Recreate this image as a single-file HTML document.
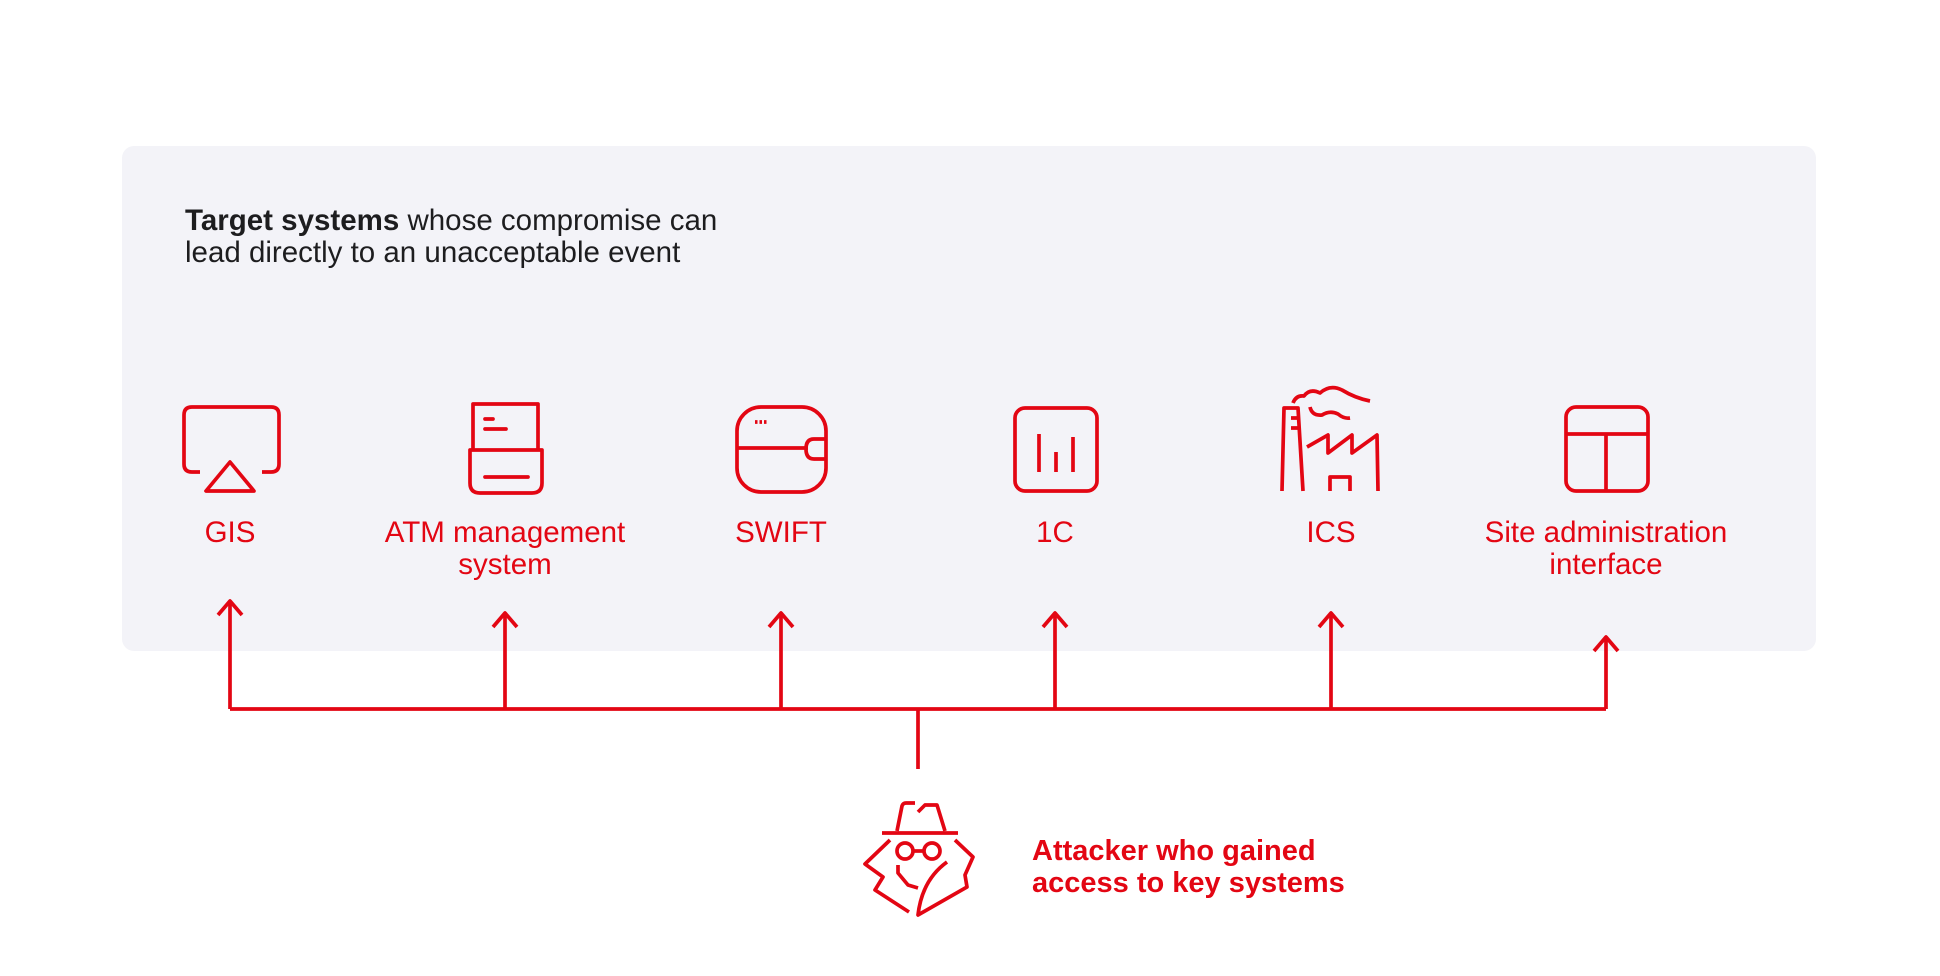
<!DOCTYPE html>
<html><head><meta charset="utf-8"><style>
html,body{margin:0;padding:0;background:#fff;}
body{width:1940px;height:976px;overflow:hidden;position:relative;font-family:"Liberation Sans",sans-serif;}
.box{position:absolute;left:122px;top:146px;width:1694px;height:505px;background:#f3f3f8;border-radius:12px;}
.h{position:absolute;left:185px;top:205px;font-size:29.5px;line-height:32px;color:#1d1d1f;}
.lbl{position:absolute;width:340px;text-align:center;font-size:29.5px;line-height:32px;color:#e30613;top:517px;}
.att{position:absolute;left:1032px;top:835px;font-size:29px;line-height:32px;color:#e30613;font-weight:bold;}
svg{position:absolute;left:0;top:0;}
</style></head><body>
<div class="box"></div>
<div class="h"><b>Target systems</b> whose compromise can<br>lead directly to an unacceptable event</div>
<div class="lbl" style="left:60px">GIS</div>
<div class="lbl" style="left:335px">ATM management<br>system</div>
<div class="lbl" style="left:611px">SWIFT</div>
<div class="lbl" style="left:885px">1C</div>
<div class="lbl" style="left:1161px">ICS</div>
<div class="lbl" style="left:1436px">Site administration<br>interface</div>
<div class="att">Attacker who gained<br>access to key systems</div>
<svg width="1940" height="976" viewBox="0 0 1940 976" fill="none" stroke="#e30613" stroke-width="3.7" stroke-linejoin="round">
<path d="M230 709 H1606 M918 709 V769"/>
<path d="M230 709 V601 M505 709 V613 M781 709 V613 M1055 709 V613 M1331 709 V613 M1606 709 V637"/>
<path d="M218 615 L230 601 L242 615 M493 627 L505 613 L517 627 M769 627 L781 613 L793 627 M1043 627 L1055 613 L1067 627 M1319 627 L1331 613 L1343 627 M1594 651 L1606 637 L1618 651"/>
<path d="M200 472 H192 Q184 472 184 464 V415 Q184 407 192 407 H271 Q279 407 279 415 V464 Q279 472 271 472 H262"/>
<path d="M230 462 L206 491 H254 Z"/>
<path d="M473 450 V404 H538 V450"/>
<path d="M470 450 H542 V483 Q542 493 532 493 H480 Q470 493 470 483 Z"/>
<path d="M485 419 H493 M485 429 H506 M485 477 H528" stroke-linecap="round"/>
<rect x="737" y="407" width="89" height="85" rx="24"/>
<path d="M737 448 H808 M826 439 H814 Q806 439 806 449 Q806 459 814 459 H826"/>
<path d="M755 422 H767" stroke-dasharray="2.5 2" stroke-width="3.7"/>
<rect x="1015" y="408" width="82" height="83" rx="10"/>
<path d="M1039 434 V472 M1056 452 V472 M1073 437 V472"/>
<path d="M1282 491 L1284 408 H1298 L1303 491 M1291 418 H1298 M1291 428 H1298"/>
<path d="M1293 403 Q1296 395 1304 396 Q1310 388 1320 393 Q1330 384 1342 390 Q1355 398 1370 401"/>
<path d="M1310 407 Q1312 416 1322 415 Q1330 410 1338 414 Q1344 419 1350 418"/>
<path d="M1307 447 L1328 435 V453 L1352 435 V453 L1377 435 L1378 491 M1330 491 V477 H1350 V491"/>
<rect x="1566" y="407" width="82" height="84" rx="10"/>
<path d="M1566 434 H1648 M1606 434 V491"/>
<path d="M882 833 H958"/>
<path d="M897 831 L902 806 Q903 803 906 803 L915 803 M918 812 L925 805 H937 L945 831"/>
<circle cx="905" cy="851" r="8"/><circle cx="932" cy="851" r="8"/><path d="M913 851 H924"/>
<path d="M890 840 L865 864 L883 877 L875 890 L909 912"/>
<path d="M955 840 L973 857 L965 875 L967 887 L918 915 Q922 880 947 862"/>
<path d="M898 865 V873 L908 885 L918 888"/>
</svg>
</body></html>
